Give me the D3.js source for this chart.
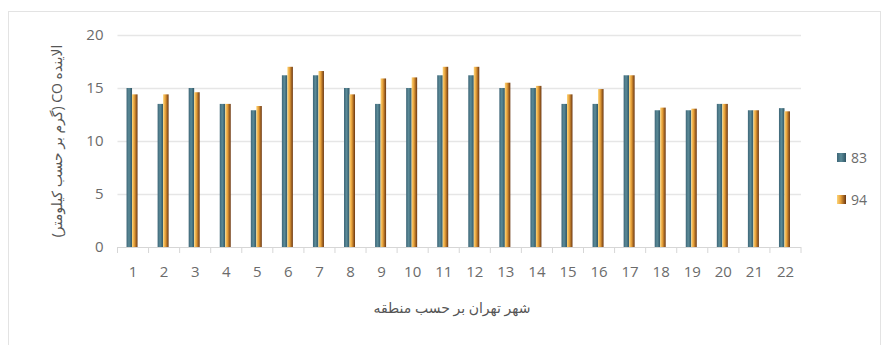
<!DOCTYPE html>
<html>
<head>
<meta charset="utf-8">
<script src="https://cdn.jsdelivr.net/npm/d3@7/dist/d3.min.js"></script>
<style>
  body { margin: 0; background: #fff; }
  text { font-family: "Open Sans", "DejaVu Sans", sans-serif; }
</style>
</head>
<body>
<svg id="chart" width="884" height="345"></svg>
<script>
// Districts of Tehran
const categories = ["1","2","3","4","5","6","7","8","9","10","11","12","13","14","15","16","17","18","19","20","21","22"];
// CO emission (g per km) by year
const series83 = [15, 13.5, 15, 13.5, 12.9, 16.2, 16.2, 15, 13.5, 15, 16.2, 16.2, 15, 15, 13.5, 13.5, 16.2, 12.9, 12.9, 13.5, 12.9, 13.1];
const series94 = [14.4, 14.4, 14.6, 13.5, 13.3, 17, 16.6, 14.4, 15.9, 16, 17, 17, 15.5, 15.2, 14.4, 14.9, 16.2, 13.15, 13.05, 13.5, 12.9, 12.8];
const seriesNames = ["83", "94"];
const yTicks = [0, 5, 10, 15, 20];

const svg = d3.select("#chart");
const defs = svg.append("defs");

// Bar shading
const gTeal = defs.append("linearGradient").attr("id", "gTeal").attr("x1", 0).attr("x2", 1).attr("y1", 0).attr("y2", 0);
gTeal.append("stop").attr("offset", "0%").attr("stop-color", "#3d6577");
gTeal.append("stop").attr("offset", "45%").attr("stop-color", "#5b8b98");
gTeal.append("stop").attr("offset", "100%").attr("stop-color", "#2f5565");
const gOrange = defs.append("linearGradient").attr("id", "gOrange").attr("x1", 0).attr("x2", 1).attr("y1", 0).attr("y2", 0);
gOrange.append("stop").attr("offset", "0%").attr("stop-color", "#fbd57a");
gOrange.append("stop").attr("offset", "40%").attr("stop-color", "#e9a23a");
gOrange.append("stop").attr("offset", "100%").attr("stop-color", "#6a3510");
const fills = ["url(#gTeal)", "url(#gOrange)"];

// Outer frame
svg.append("rect").attr("x", 8.5).attr("y", 11.5).attr("width", 872).attr("height", 340)
  .attr("fill", "none").attr("stroke", "#e3e3e3");

const margin = { left: 117.5, right: 83, top: 35, bottom: 98 };
const W = 884, H = 345;
const x = d3.scaleBand().domain(categories).range([margin.left, W - margin.right]).paddingInner(0).paddingOuter(0);
const y = d3.scaleLinear().domain([0, 20]).range([H - margin.bottom, margin.top]);

// Grid lines
svg.append("g").selectAll("line").data(yTicks.filter(d => d > 0)).join("line")
  .attr("x1", x.range()[0]).attr("x2", x.range()[1])
  .attr("y1", d => y(d) + 0.5).attr("y2", d => y(d) + 0.5)
  .attr("stroke", "#e6e6e6").attr("stroke-width", 1.5);

// Y axis labels
const yAxis = d3.axisLeft(y).tickValues(yTicks).tickSize(0).tickPadding(14);
const yg = svg.append("g").attr("transform", `translate(${x.range()[0]},0)`).call(yAxis);
yg.select(".domain").remove();
yg.selectAll("text").attr("fill", "#6b6b6b").style("font-size", "15px");

// X axis baseline with ticks between categories
const xg = svg.append("g").attr("transform", `translate(0,${y(0)})`);
xg.append("line").attr("x1", x.range()[0]).attr("x2", x.range()[1]).attr("y1", 0.5).attr("y2", 0.5)
  .attr("stroke", "#d6d6d6");
const bounds = categories.map(c => x(c)).concat([x.range()[1]]);
xg.selectAll("line.tk").data(bounds).join("line").attr("class", "tk")
  .attr("x1", d => d).attr("x2", d => d).attr("y1", 0).attr("y2", 6).attr("stroke", "#d6d6d6");
xg.selectAll("text").data(categories).join("text")
  .attr("x", d => x(d) + x.bandwidth() / 2).attr("y", 30)
  .attr("text-anchor", "middle").attr("fill", "#6b6b6b").style("font-size", "15px").text(d => d);

// Bars
const barW = 5.5;
const data = [series83, series94];
data.forEach((vals, si) => {
  svg.append("g").selectAll("rect").data(vals).join("rect")
    .attr("x", (d, i) => x(categories[i]) + x.bandwidth() / 2 - barW - 1 + si * barW)
    .attr("y", d => y(d))
    .attr("width", barW)
    .attr("height", d => y(0) - y(d))
    .attr("fill", fills[si]);
});

// Axis titles
svg.append("text").attr("transform", `translate(62,${(y(0) + y(20)) / 2}) rotate(-90)`)
  .attr("text-anchor", "middle").attr("fill", "#555").style("font-size", "14px")
  .attr("direction", "rtl")
  .text("الاینده CO (گرم بر حسب کیلومتر)");
svg.append("text").attr("x", 452).attr("y", 313).attr("text-anchor", "middle")
  .attr("fill", "#555").style("font-size", "14px").attr("direction", "rtl")
  .text("شهر تهران بر حسب منطقه");

// Legend
const lg = svg.append("g");
seriesNames.forEach((n, i) => {
  const ly = 158 + i * 42;
  lg.append("rect").attr("x", 837).attr("y", ly - 5).attr("width", 9).attr("height", 9).attr("fill", fills[i]);
  lg.append("text").attr("x", 851).attr("y", ly + 5).attr("fill", "#6b6b6b").style("font-size", "14px").text(n);
});
</script>
</body>
</html>
